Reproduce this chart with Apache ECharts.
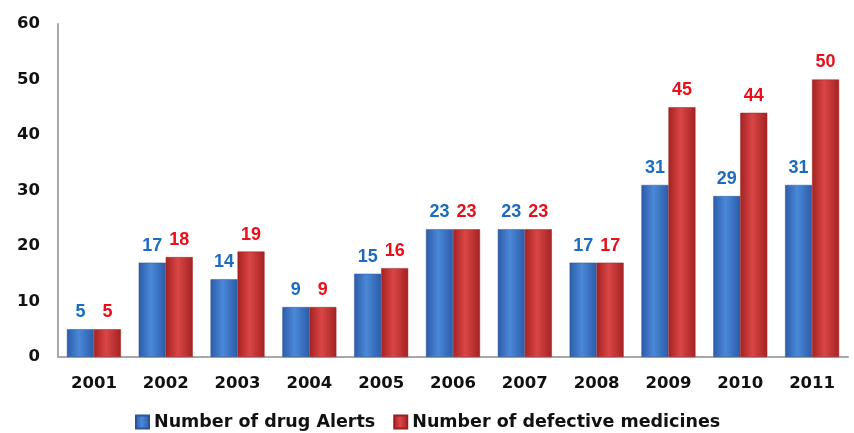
<!DOCTYPE html>
<html><head><meta charset="utf-8">
<script src="https://cdn.jsdelivr.net/npm/echarts@6/dist/echarts.min.js"></script>
<style>html,body{margin:0;padding:0;background:#fff}#c{width:854px;height:433px}</style>
</head><body><div id="c"></div>
<script>
const years = ['2001','2002','2003','2004','2005','2006','2007','2008','2009','2010','2011'];
const drugAlerts = [5,17,14,9,15,23,23,17,31,29,31];
const defectiveMedicines = [5,18,19,9,16,23,23,17,45,44,50];
const yTicks = [0,10,20,30,40,50,60];

const chart = echarts.init(document.getElementById('c'));
function grad(edge, mid){
  return new echarts.graphic.LinearGradient(0,0,1,0,[
    {offset:0,color:edge},{offset:0.45,color:mid},{offset:1,color:edge}]);
}
const wide = 'DejaVu Sans, Verdana, sans-serif';
const narrow = 'Liberation Sans, Arial, sans-serif';
chart.setOption({
  animation:false,
  grid:{left:58,right:6,top:24,bottom:76},
  legend:{
    bottom:-3,left:130,itemWidth:13,itemHeight:13,itemGap:18,
    textStyle:{fontSize:17.5,fontWeight:'bold',color:'#111',fontFamily:wide},
    data:[{name:'Number of drug Alerts',icon:'rect'},{name:'Number of defective medicines',icon:'rect'}]
  },
  xAxis:{
    type:'category',data:years,
    axisLine:{lineStyle:{color:'#a8a8a8',width:2}},
    axisTick:{show:false},
    axisLabel:{fontSize:16.5,fontWeight:'bold',color:'#111',margin:18,fontFamily:wide}
  },
  yAxis:{
    type:'value',min:yTicks[0],max:yTicks[yTicks.length-1],interval:10,
    axisLine:{show:true,lineStyle:{color:'#a8a8a8',width:2}},
    axisTick:{show:false},splitLine:{show:false},
    axisLabel:{fontSize:16.5,fontWeight:'bold',color:'#111',margin:18,fontFamily:wide}
  },
  series:[
    {name:'Number of drug Alerts',type:'bar',data:drugAlerts,barWidth:27,barGap:'0%',
     itemStyle:{color:grad('#2c5ca8','#4a88d8'),borderColor:'#2a5597',borderWidth:0.5},
     label:{show:true,position:'top',distance:8,color:'#1e6cc0',fontSize:18,fontWeight:'bold',fontFamily:narrow}},
    {name:'Number of defective medicines',type:'bar',data:defectiveMedicines,barWidth:27,
     itemStyle:{color:grad('#a52222','#d94646'),borderColor:'#9a2020',borderWidth:0.5},
     label:{show:true,position:'top',distance:8,color:'#e8101a',fontSize:18,fontWeight:'bold',fontFamily:narrow}}
  ]
});
</script></body></html>
